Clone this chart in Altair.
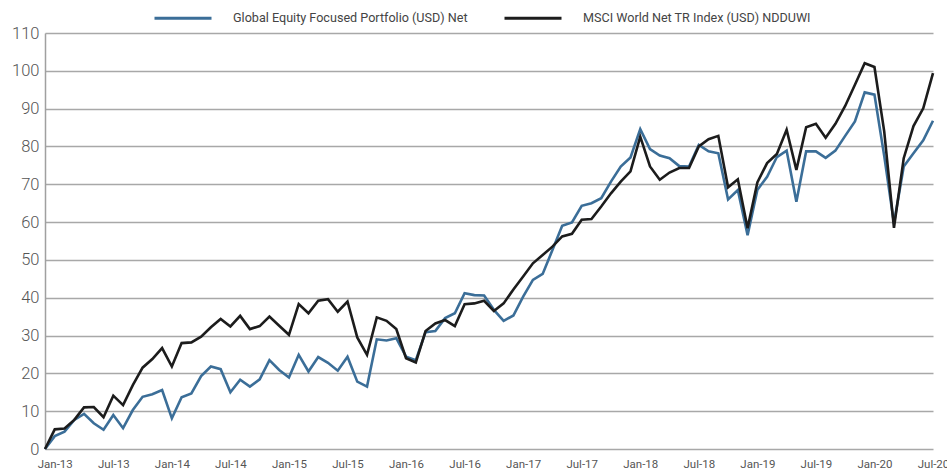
import json
import altair as alt
import pandas as pd

# month-end observation labels (Dec-12 base point, then Jan-13 .. Jul-20)
month_names = ["Jan", "Feb", "Mar", "Apr", "May", "Jun",
               "Jul", "Aug", "Sep", "Oct", "Nov", "Dec"]
months = ["Dec-12"] + [f"{month_names[m]}-{y}" for y in range(13, 21) for m in range(12)][:91]

portfolio = [0, 3.4, 4.6, 7.7, 9.3, 6.8, 5.1, 9.0, 5.5, 10.3, 13.8, 14.5, 15.6,
             8.1, 13.7, 14.7, 19.3, 21.8, 21.1, 15.0, 18.3, 16.5, 18.4, 23.5, 20.9,
             18.9, 24.9, 20.5, 24.3, 22.8, 20.7, 24.4, 17.8, 16.5, 29.0, 28.7, 29.3,
             24.4, 23.5, 30.9, 31.2, 34.6, 35.9, 41.2, 40.7, 40.6, 36.8, 33.9, 35.3,
             40.3, 44.7, 46.3, 52.6, 59.0, 59.9, 64.3, 65.0, 66.3, 70.7, 74.7, 77.1,
             84.6, 79.3, 77.6, 76.9, 74.8, 74.7, 80.4, 78.7, 78.2, 66.0, 68.5, 56.5,
             68.5, 72.0, 77.2, 78.9, 65.4, 78.7, 78.7, 77.0, 78.9, 82.8, 86.6, 94.3,
             93.7, 77.5, 59.7, 74.7, 78.2, 81.6, 86.8]

msci = [0, 5.2, 5.4, 7.7, 11.0, 11.1, 8.4, 14.1, 11.6, 16.9, 21.5, 23.8, 26.7,
        21.8, 28.0, 28.2, 29.7, 32.2, 34.4, 32.4, 35.2, 31.7, 32.5, 35.0, 32.6,
        30.2, 38.3, 35.9, 39.2, 39.6, 36.3, 39.0, 29.5, 24.9, 34.8, 33.9, 31.7,
        24.0, 22.9, 31.2, 33.2, 34.1, 32.5, 38.3, 38.5, 39.2, 36.5, 38.5, 42.2,
        45.6, 49.1, 51.3, 53.5, 56.2, 56.9, 60.6, 60.8, 64.1, 67.6, 70.7, 73.4,
        82.6, 74.7, 71.2, 73.1, 74.3, 74.3, 80.0, 81.9, 82.8, 69.2, 71.3, 58.4,
        70.5, 75.6, 78.0, 84.4, 73.8, 85.1, 86.0, 82.3, 86.0, 90.7, 96.3, 102.0,
        101.0, 84.0, 58.5, 76.9, 85.4, 90.1, 99.4]

tick_labels = ["Jan-13", "Jul-13", "Jan-14", "Jul-14", "Jan-15", "Jul-15", "Jan-16",
               "Jul-16", "Jan-17", "Jul-17", "Jan-18", "Jul-18", "Jan-19", "Jul-19",
               "Jan-20", "Jul-20"]
tick_idx = [months.index(t) for t in tick_labels]

series_names = ["Global Equity Focused Portfolio (USD) Net",
                "MSCI World Net TR Index (USD) NDDUWI"]
colors = ["#3b6e98", "#1c1c1c"]

rows = []
for name, vals in zip(series_names, [portfolio, msci]):
    for i, v in enumerate(vals):
        rows.append({"k": i, "month": months[i], "value": v, "series": name})
df = pd.DataFrame(rows)

label_expr = f"{json.dumps(tick_labels)}[indexof({json.dumps(tick_idx)}, datum.value)]"

FONT = "Roboto, sans-serif"

base = alt.Chart(df).encode(
    x=alt.X("k:Q", scale=alt.Scale(domain=[0, len(months) - 1], nice=False, zero=False),
            axis=alt.Axis(values=tick_idx, labelExpr=label_expr, title=None, grid=False,
                          ticks=False, domain=False, labelFontSize=11.5, labelColor="#555555",
                          labelPadding=9, labelFont=FONT, labelFlush=False,
                          labelOverlap=False, labelBound=False)),
    y=alt.Y("value:Q", scale=alt.Scale(domain=[0, 110], nice=False),
            axis=alt.Axis(values=list(range(0, 111, 10)), title=None, ticks=False,
                          domain=True, domainColor="#a0a0a0", domainWidth=1.5,
                          gridColor="#a8a8a8", gridWidth=1.5, labelFontSize=16.5,
                          labelFontWeight=300,
                          labelColor="#555555", labelPadding=6, labelFont=FONT)),
    color=alt.Color("series:N", scale=alt.Scale(domain=series_names, range=colors),
                    legend=alt.Legend(title=None, orient="none", legendX=108, legendY=-45,
                                      direction="horizontal", symbolType="stroke",
                                      symbolSize=3249, symbolStrokeWidth=3,
                                      labelFontSize=12.6, labelColor="#444444",
                                      labelFont=FONT, labelOffset=20, columnPadding=30,
                                      labelLimit=400)),
)

blue = base.transform_filter(alt.datum.series == series_names[0]).mark_line(strokeWidth=2.6)
black = base.transform_filter(alt.datum.series == series_names[1]).mark_line(strokeWidth=2.6)

chart = alt.layer(blue, black).properties(
    width=888, height=416,
    padding={"left": 45, "top": 33, "right": 14, "bottom": 26},
    autosize=alt.AutoSizeParams(type="none"),
    background="white",
).configure_view(stroke=None)

chart.save("out.html", embed_options={"renderer": "svg", "actions": False})
